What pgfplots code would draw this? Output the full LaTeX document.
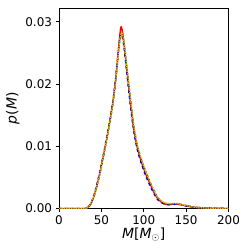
\documentclass[border=0pt]{standalone}
\usepackage{pgfplots}
\pgfplotsset{compat=1.18}
\usepackage{fontspec}
\setmainfont{DejaVu Sans}
\pgfplotstableread{
x y
0 0
30 0
33 0.0001
36 0.0004
40 0.0015
44 0.0033
48 0.0056
52 0.0082
56 0.0110
60 0.0140
64 0.0175
67 0.0210
70 0.0253
72 0.0281
73 0.0291
74 0.0290
75.5 0.0279
77 0.0261
80 0.0224
84 0.0174
88 0.0130
92 0.0100
96 0.0080
100 0.0064
104 0.0050
108 0.0038
112 0.0026
116 0.0017
120 0.0011
125 0.0007
130 0.0006
135 0.0007
140 0.0007
145 0.0006
150 0.0004
160 0.0002
170 0.0001
185 0.00003
200 0
}\red
\pgfplotstableread{
x y
0 0
30 0
33 0.0001
36 0.0005
40 0.0016
44 0.0035
48 0.0058
52 0.0084
56 0.0112
60 0.0142
64 0.0177
67 0.0211
70 0.0252
72 0.0275
73.5 0.0280
75 0.0274
77 0.0255
80 0.0218
84 0.0168
88 0.0126
92 0.0097
96 0.0077
100 0.0061
104 0.0047
108 0.0035
112 0.0024
116 0.0015
120 0.0010
125 0.0007
130 0.0006
135 0.0007
140 0.0007
145 0.0006
150 0.0004
160 0.0002
170 0.0001
185 0.00003
200 0
}\blue
\pgfplotstableread{
x y
0 0
30 0
33 0.0001
36 0.0004
40 0.0014
44 0.0032
48 0.0054
52 0.0080
56 0.0108
60 0.0138
64 0.0172
67 0.0206
70 0.0248
72 0.0272
74 0.0281
75.5 0.0276
77.5 0.0258
80 0.0228
84 0.0180
88 0.0135
92 0.0104
96 0.0084
100 0.0068
104 0.0054
108 0.0041
112 0.0029
116 0.0019
120 0.0012
125 0.0008
130 0.0007
135 0.0008
140 0.0008
145 0.0006
150 0.0005
160 0.0002
170 0.0001
185 0.00003
200 0
}\green
\pgfplotstableread{
x y
0 0
30 0
33 0.0001
36 0.0005
40 0.0015
44 0.0033
48 0.0055
52 0.0081
56 0.0109
60 0.0139
64 0.0173
67 0.0207
70 0.0249
72 0.0273
74 0.0282
75.5 0.0277
77.5 0.0259
80 0.0229
84 0.0181
88 0.0136
92 0.0105
96 0.0085
100 0.0068
104 0.0054
108 0.0041
112 0.0029
116 0.0019
120 0.0013
125 0.0009
130 0.0008
135 0.0008
140 0.0008
145 0.0006
150 0.0005
160 0.0002
170 0.0001
185 0.00003
200 0
}\orange
\definecolor{mgreen}{HTML}{008000}
\definecolor{morange}{HTML}{FFA500}
\begin{document}
\begin{tikzpicture}
\useasboundingbox (-59bp,-40.5bp) rectangle (189.5bp,208.5bp);
\begin{axis}[
  at={(0,0)}, anchor=south west,
  scale only axis, width=169.5bp, height=200.5bp,
  xmin=0, xmax=200, ymin=0, ymax=0.0322,
  xtick={0,50,100,150,200},
  ytick={0,0.01,0.02,0.03},
  yticklabel style={/pgf/number format/.cd, fixed, fixed zerofill, precision=2},
  scaled y ticks=false,
  /pgf/number format/assume math mode=true,
  tick align=outside, tick pos=left,
  major tick length=3.5pt,
  every tick/.style={black, line width=0.8pt},
  axis line style={line width=0.8pt},
  ticklabel style={font=\fontsize{12}{14}\selectfont},
  label style={font=\fontsize{14}{16}\selectfont},
  xlabel={\textit{M}[\textit{M}$_\odot$]},
  ylabel={\textit{p}(\textit{M})},
  xlabel style={yshift=4pt},
  ylabel style={yshift=-1pt},
]
\addplot[red, line width=1.4pt, smooth] table {\red};
\addplot[blue, line width=1.4pt, dashed, smooth] table {\blue};
\addplot[mgreen, line width=1.4pt, dash dot, smooth] table {\green};
\addplot[morange, line width=1.4pt, densely dotted, smooth] table {\orange};
\end{axis}
\end{tikzpicture}
\end{document}
